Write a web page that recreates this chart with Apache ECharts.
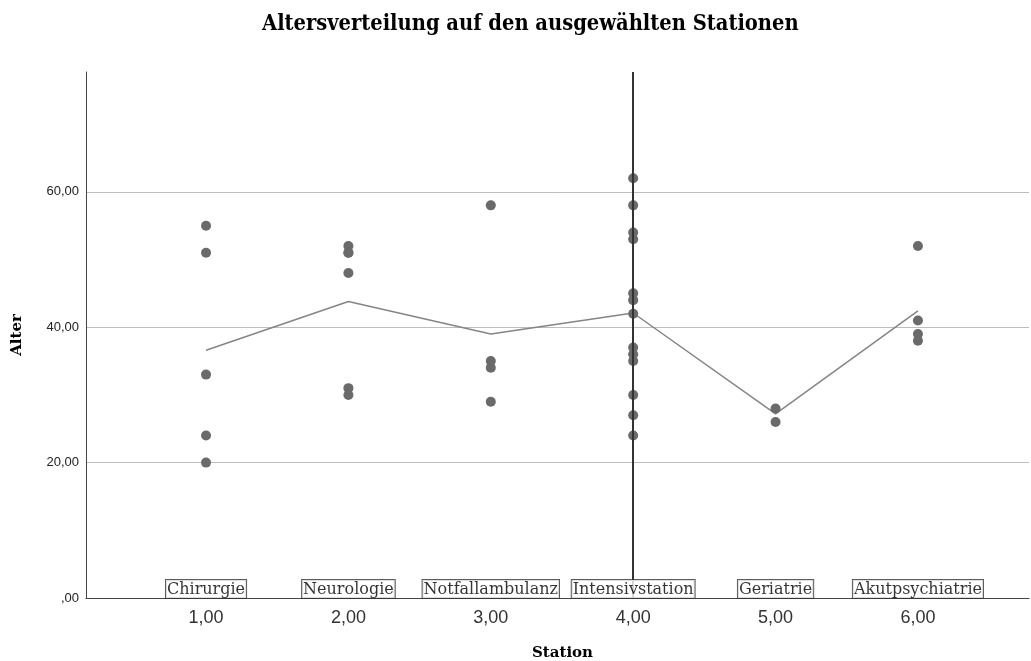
<!DOCTYPE html>
<html>
<head>
<meta charset="utf-8">
<script src="https://cdn.jsdelivr.net/npm/echarts@6/dist/echarts.min.js"></script>
<style>
html,body{margin:0;padding:0;background:#fff;}
#chart{width:1031px;height:661px;}
</style>
</head>
<body>
<div id="chart"></div>
<script>
// ---- data ----
const stations = [1, 2, 3, 4, 5, 6];
const stationNames = ['Chirurgie', 'Neurologie', 'Notfallambulanz', 'Intensivstation', 'Geriatrie', 'Akutpsychiatrie'];
const agesChirurgie = [55, 51, 33, 24, 20];
const agesNeurologie = [52, 51, 51, 48, 31, 30];
const agesNotfall = [58, 35, 34, 29];
const agesIntensiv = [62, 58, 54, 53, 45, 44, 42, 37, 36, 35, 30, 27, 24];
const agesGeriatrie = [28, 26];
const agesAkut = [52, 41, 39, 38];
const meanAges = [36.6, 43.8, 39.0, 42.1, 27.2, 42.4];
const yTicks = [0, 20, 40, 60];
const xTicks = [1, 2, 3, 4, 5, 6];
const refLineX = 4;

const agesByStation = [agesChirurgie, agesNeurologie, agesNotfall, agesIntensiv, agesGeriatrie, agesAkut];
const pointData = [];
agesByStation.forEach((arr, i) => arr.forEach(a => pointData.push([stations[i], a])));
const meanData = stations.map((s, i) => [s, meanAges[i]]);
const labelData = stations.map((s, i) => ({ value: [s, 0], name: stationNames[i] }));

const fmt = v => {
  const s = v.toFixed(2).replace('.', ',');
  return s.startsWith('0,') ? s.slice(1) : s;
};

const chart = echarts.init(document.getElementById('chart'), null, { renderer: 'canvas' });
chart.setOption({
  animation: false,
  backgroundColor: '#ffffff',
  title: {
    text: 'Altersverteilung auf den ausgewählten Stationen',
    left: 257,
    top: 8,
    textStyle: {
      fontFamily: "'DejaVu Serif Condensed', 'DejaVu Serif', serif",
      fontWeight: 'bold',
      fontSize: 21.7,
      color: '#000'
    }
  },
  grid: { left: 86, right: 2, top: 72, bottom: 63, containLabel: false, outerBoundsMode: 'none' },
  xAxis: {
    type: 'value',
    min: 0.157,
    max: 6.78,
    name: 'Station',
    nameLocation: 'middle',
    nameGap: 48,
    nameTextStyle: {
      fontFamily: "'DejaVu Serif', serif",
      fontWeight: 'bold',
      fontSize: 15,
      color: '#000',
      padding: [0, 0, 0, 10]
    },
    axisLine: { show: true, onZero: false, lineStyle: { color: '#444', width: 1 } },
    axisTick: { show: false },
    splitLine: { show: false },
    axisLabel: {
      customValues: xTicks,
      formatter: v => fmt(v),
      fontFamily: "'Liberation Sans', Arial, sans-serif",
      fontSize: 18,
      color: '#333',
      margin: 11
    }
  },
  yAxis: {
    type: 'value',
    min: 0,
    max: 77.7,
    interval: 20,
    name: 'Alter',
    nameLocation: 'middle',
    nameGap: 61,
    nameRotate: 90,
    nameTextStyle: {
      fontFamily: "'DejaVu Serif', serif",
      fontWeight: 'bold',
      fontSize: 15,
      color: '#000'
    },
    axisLine: { show: true, lineStyle: { color: '#444', width: 1 } },
    axisTick: { show: false },
    splitLine: { show: true, showMinLine: false, showMaxLine: false, lineStyle: { color: '#bdbdbd', width: 1 } },
    axisLabel: {
      customValues: yTicks,
      formatter: v => fmt(v),
      fontFamily: "'Liberation Sans', Arial, sans-serif",
      fontSize: 13,
      color: '#222',
      margin: 7,
      padding: [10, 0, 0, 0]
    }
  },
  series: [
    {
      type: 'line',
      data: meanData,
      symbol: 'none',
      lineStyle: { color: '#858585', width: 1.5 },
      z: 2
    },
    {
      type: 'scatter',
      data: pointData,
      symbol: 'circle',
      symbolSize: 10,
      itemStyle: { color: '#6a6a6a', opacity: 1 },
      z: 3,
      markLine: {
        silent: true,
        symbol: 'none',
        label: { show: false },
        lineStyle: { color: '#333', width: 2, type: 'solid' },
        data: [{ xAxis: refLineX }],
        z: 10
      }
    },
    {
      type: 'scatter',
      data: labelData,
      symbolSize: 0,
      clip: false,
      silent: true,
      z: 12,
      label: {
        show: true,
        position: 'top',
        distance: 0,
        formatter: p => p.name,
        fontFamily: "'DejaVu Serif', serif",
        fontSize: 16,
        color: '#000',
        backgroundColor: '#fff',
        borderColor: '#333',
        borderWidth: 1,
        padding: [2, 1, 0, 1]
      }
    }
  ]
});
</script>
</body>
</html>
